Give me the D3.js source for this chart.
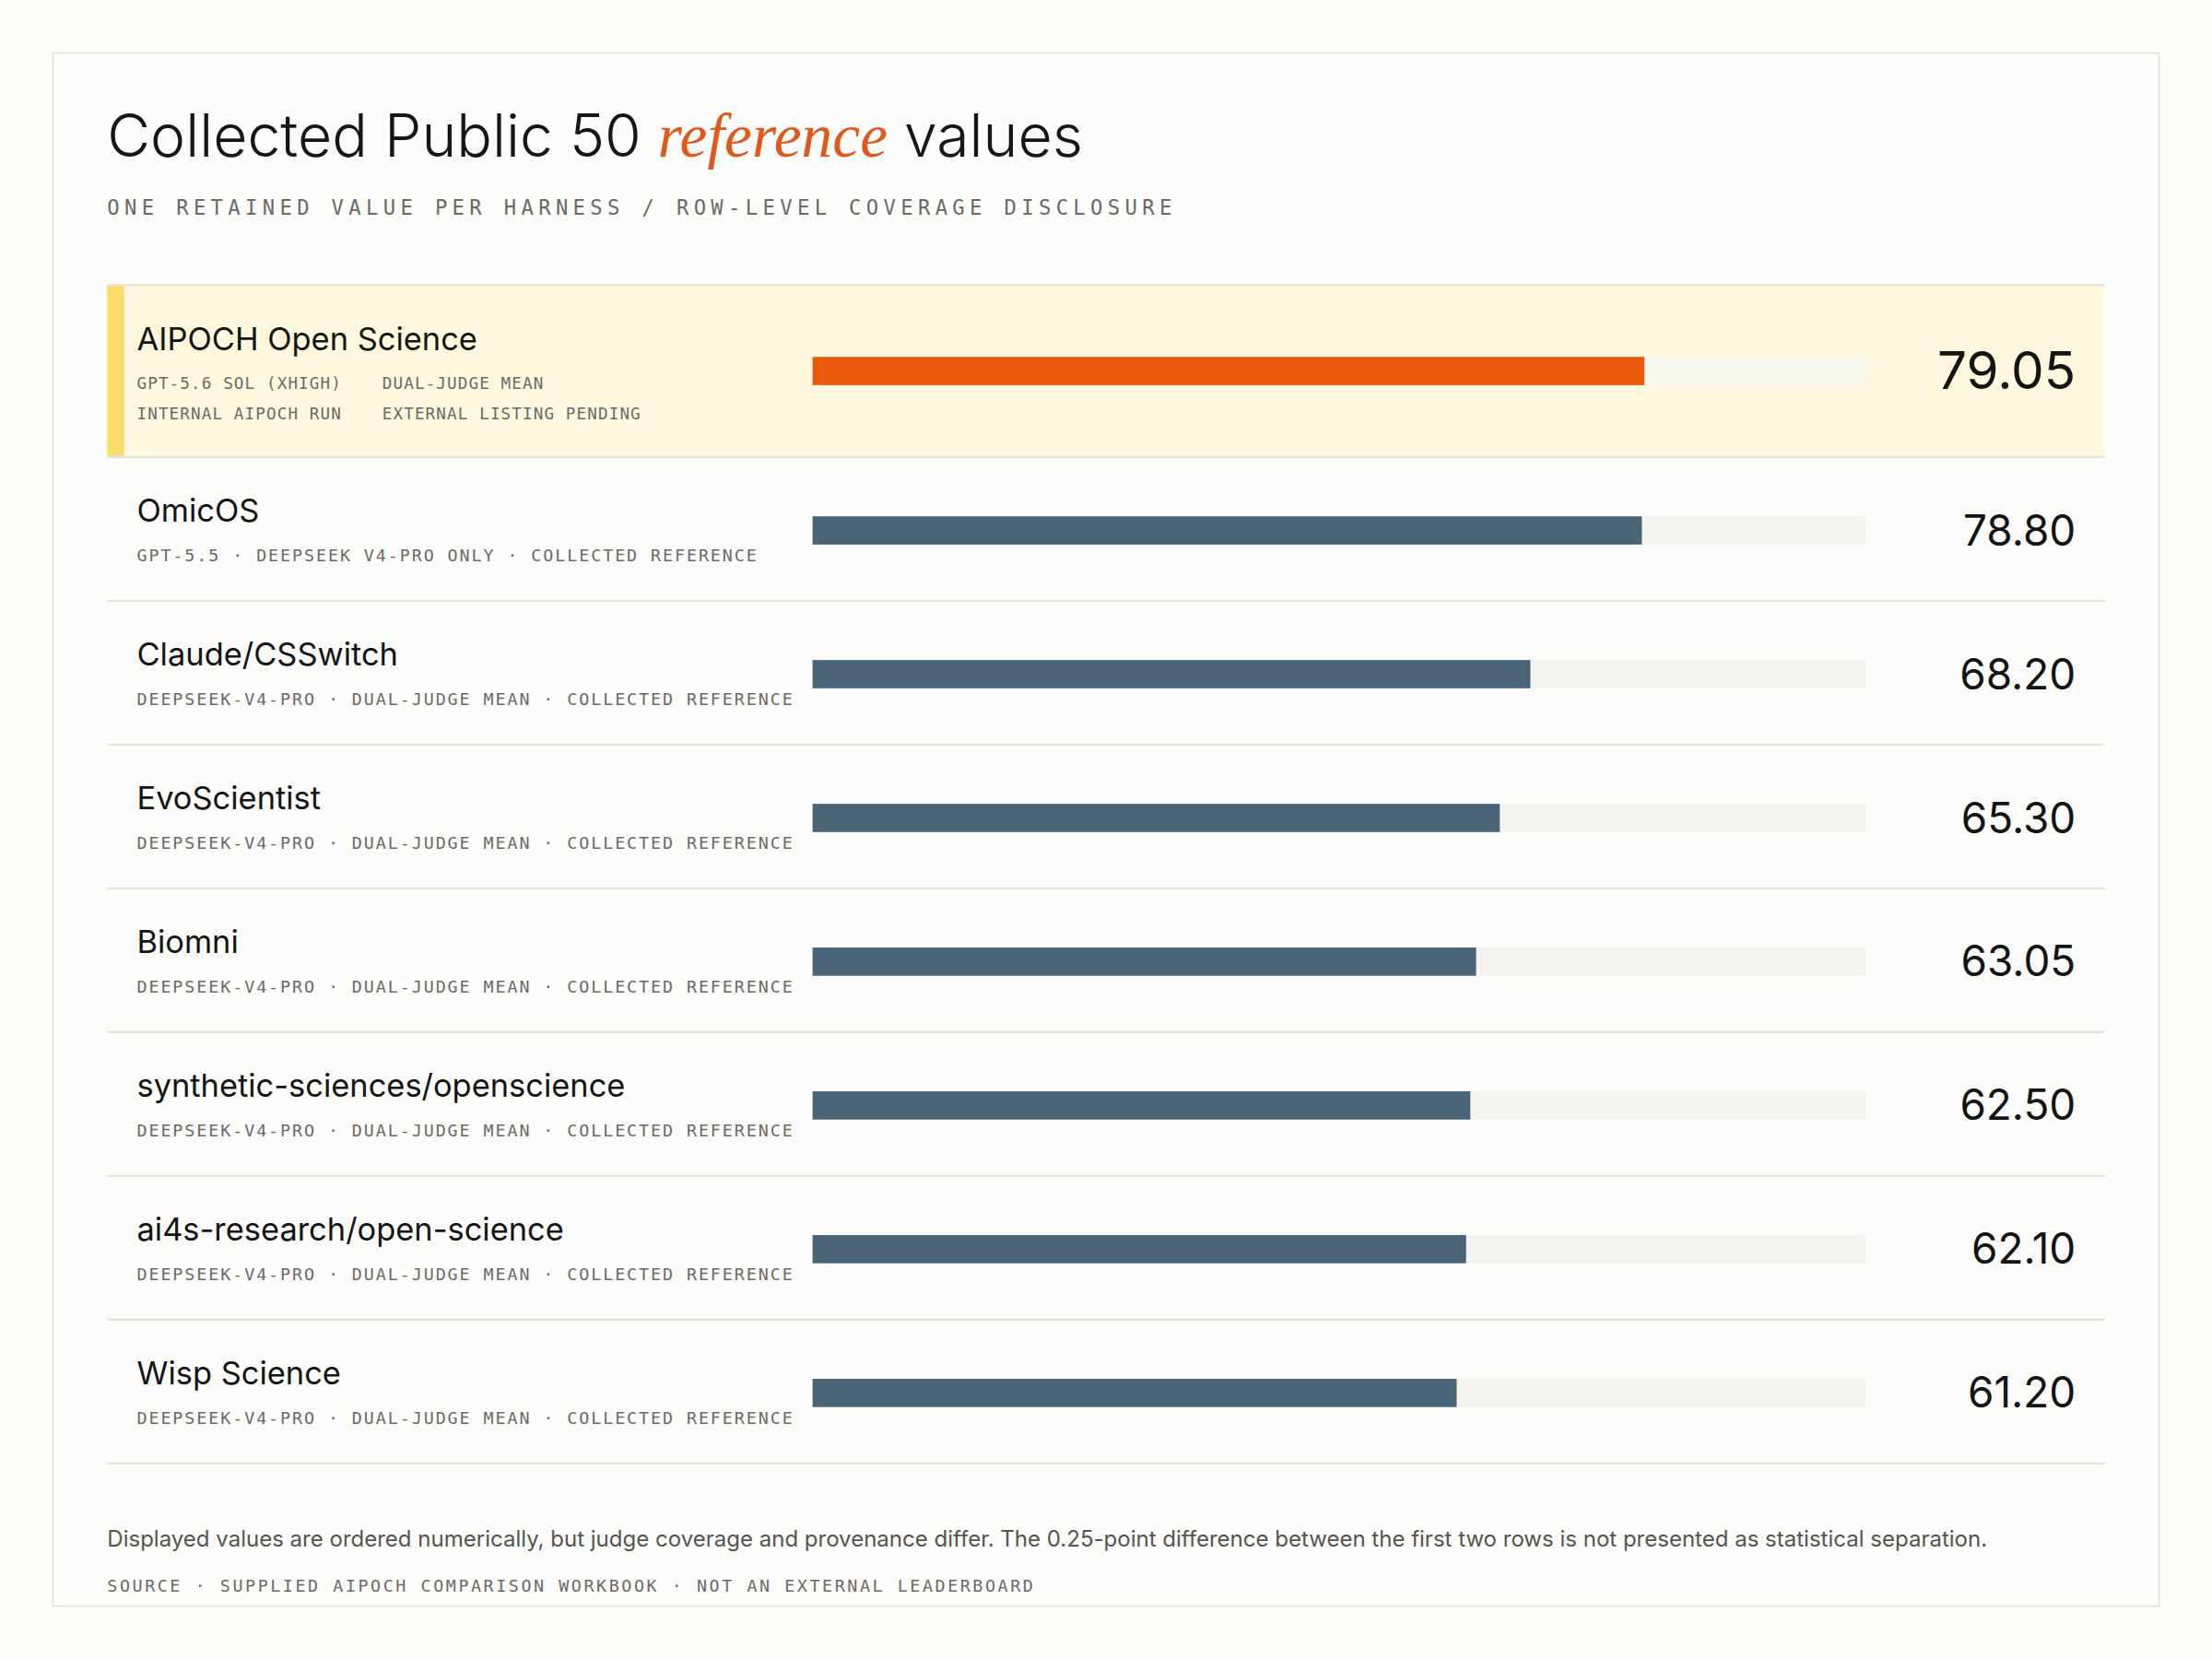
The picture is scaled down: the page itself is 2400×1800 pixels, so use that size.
<!DOCTYPE html>
<html lang="en">
<head>
<meta charset="UTF-8">
<title>Collected Public 50 reference values</title>
<script src="https://cdn.jsdelivr.net/npm/d3@7"></script>
<style>
    html, body { margin: 0; padding: 0; background: #fbfbf8; }
    svg { display: block; }
    .sans { font-family: Inter, "Noto Sans", sans-serif; }
    .mono { font-family: "DejaVu Sans Mono", "Liberation Mono", monospace; }
</style>
</head>
<body>
<script>
    // harnesses, top to bottom
    const names = ["AIPOCH Open Science", "OmicOS", "Claude/CSSwitch", "EvoScientist", "Biomni",
        "synthetic-sciences/openscience", "ai4s-research/open-science", "Wisp Science"];
    const values = [79.05, 78.80, 68.20, 65.30, 63.05, 62.50, 62.10, 61.20];
    const notes = [
        "",
        "GPT-5.5 · DEEPSEEK V4-PRO ONLY · COLLECTED REFERENCE",
        "DEEPSEEK-V4-PRO · DUAL-JUDGE MEAN · COLLECTED REFERENCE",
        "DEEPSEEK-V4-PRO · DUAL-JUDGE MEAN · COLLECTED REFERENCE",
        "DEEPSEEK-V4-PRO · DUAL-JUDGE MEAN · COLLECTED REFERENCE",
        "DEEPSEEK-V4-PRO · DUAL-JUDGE MEAN · COLLECTED REFERENCE",
        "DEEPSEEK-V4-PRO · DUAL-JUDGE MEAN · COLLECTED REFERENCE",
        "DEEPSEEK-V4-PRO · DUAL-JUDGE MEAN · COLLECTED REFERENCE"
    ];
    // the highlighted row gets a 2x2 grid of notes instead
    const leadNotes = [["GPT-5.6 SOL (XHIGH)", "DUAL-JUDGE MEAN"], ["INTERNAL AIPOCH RUN", "EXTERNAL LISTING PENDING"]];

    const W = 1568, H = 1176;
    const svg = d3.select("body").append("svg")
        .attr("width", 2400).attr("height", 1800)
        .attr("viewBox", `0 0 ${W} ${H}`);

    svg.append("rect").attr("width", W).attr("height", H).attr("fill", "#fbfbf8");
    svg.append("rect")
        .attr("x", 37.5).attr("y", 37.5).attr("width", 1493).attr("height", 1101)
        .attr("fill", "#fcfcfa").attr("stroke", "#e4e2db").attr("stroke-width", 1.2);

    // title
    const title = svg.append("text").attr("class", "sans")
        .attr("x", 76).attr("y", 111).attr("font-size", 42).attr("font-weight", 300)
        .attr("fill", "#161616");
    title.append("tspan").text("Collected Public 50 ");
    title.append("tspan").text("reference")
        .attr("font-family", "'Liberation Serif', 'DejaVu Serif', serif")
        .attr("font-weight", 400)
        .attr("font-style", "italic").attr("font-size", 44).attr("fill", "#e0581a");
    title.append("tspan").text(" values");

    svg.append("text").attr("class", "mono")
        .attr("x", 76).attr("y", 152).attr("font-size", 14.5)
        .attr("letter-spacing", 3.5).attr("fill", "#6b6a66")
        .text("ONE RETAINED VALUE PER HARNESS / ROW-LEVEL COVERAGE DISCLOSURE");

    // rows
    const left = 76, right = 1492, top0 = 202;
    const rowH = names.map((d, i) => i === 0 ? 122 : 101.9);
    const rowTop = rowH.map((h, i) => top0 + d3.sum(rowH.slice(0, i)));

    const x = d3.scaleLinear().domain([0, 100]).range([576, 1322]);
    const barH = 20;

    const rows = svg.append("g").selectAll("g")
        .data(names.map((n, i) => ({name: n, value: values[i], note: notes[i], i})))
        .join("g")
        .attr("transform", d => `translate(0,${rowTop[d.i]})`);

    rows.filter(d => d.i === 0).append("rect")
        .attr("x", left).attr("width", right - left).attr("height", d => rowH[d.i])
        .attr("fill", "#fff8de");
    rows.filter(d => d.i === 0).append("rect")
        .attr("x", left).attr("width", 12).attr("height", d => rowH[d.i])
        .attr("fill", "#f9dc6b");

    // separators
    svg.append("g").selectAll("line")
        .data(rowTop.concat([rowTop[rowTop.length - 1] + rowH[rowH.length - 1]]))
        .join("line")
        .attr("x1", left).attr("x2", right)
        .attr("y1", d => d).attr("y2", d => d)
        .attr("stroke", "#e7e4de").attr("stroke-width", 1.6);

    const lead = d => d.i === 0;

    rows.append("text").attr("class", "sans")
        .attr("x", 97).attr("y", 46)
        .attr("font-size", 22.5).attr("fill", "#141414")
        .text(d => d.name);

    rows.filter(d => !lead(d)).append("text").attr("class", "mono")
        .attr("x", 97).attr("y", 74)
        .attr("font-size", 12).attr("letter-spacing", 1.25).attr("fill", "#6b6a66")
        .text(d => d.note);

    const leadRow = rows.filter(lead);
    leadNotes.forEach((line, li) => {
        line.forEach((t, ci) => {
            leadRow.append("text").attr("class", "mono")
                .attr("x", ci === 0 ? 97 : 271).attr("y", 73.5 + li * 22)
                .attr("font-size", 11.5).attr("letter-spacing", 0.73).attr("fill", "#6b6a66")
                .text(t);
        });
    });

    // bar track and bar
    const barY = d => (lead(d) ? 61 : 52) - barH / 2;
    rows.append("rect")
        .attr("x", x(0)).attr("y", barY)
        .attr("width", x(100) - x(0)).attr("height", barH)
        .attr("fill", d => lead(d) ? "#f8f7f0" : "#f4f3ef");
    rows.append("rect")
        .attr("x", x(0)).attr("y", barY)
        .attr("width", d => x(d.value) - x(0)).attr("height", barH)
        .attr("fill", d => lead(d) ? "#e8590c" : "#4a6477");

    rows.append("text").attr("class", "sans")
        .attr("x", 1471.5).attr("y", d => lead(d) ? 74 : 62.5)
        .attr("text-anchor", "end")
        .attr("font-size", d => lead(d) ? 37 : 30)
        .attr("fill", "#141414")
        .text(d => d3.format(".2f")(d.value));

    // footer
    svg.append("text").attr("class", "sans")
        .attr("x", 76).attr("y", 1096).attr("font-size", 15.7).attr("fill", "#55544f")
        .text("Displayed values are ordered numerically, but judge coverage and provenance differ. The 0.25-point difference between the first two rows is not presented as statistical separation.");

    svg.append("text").attr("class", "mono")
        .attr("x", 76).attr("y", 1128).attr("font-size", 12)
        .attr("letter-spacing", 1.67).attr("fill", "#6b6a66")
        .text("SOURCE · SUPPLIED AIPOCH COMPARISON WORKBOOK · NOT AN EXTERNAL LEADERBOARD");
</script>
</body>
</html>
